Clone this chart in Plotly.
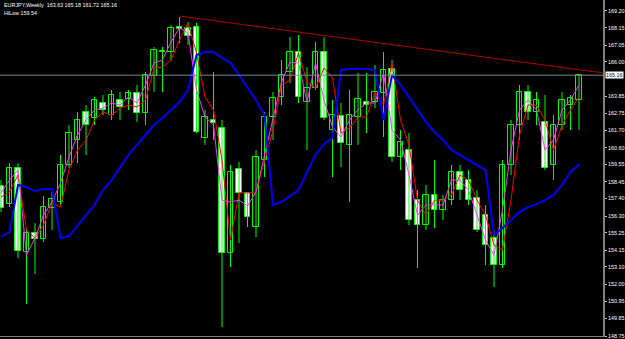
import plotly.graph_objects as go

# Weekly EURJPY candles (index 0..68)
opens = [158.19,157.05,159.32,154.03,155.23,154.85,156.80,157.18,159.51,161.08,
         162.84,162.46,163.41,162.65,163.60,163.66,164.04,162.78,165.11,166.68,
         166.62,168.19,168.13,168.19,161.21,162.34,161.84,153.97,159.26,157.75,
         155.61,159.82,162.53,163.79,165.36,166.62,163.47,164.35,166.62,161.71,
         162.59,160.77,162.53,163.47,163.47,164.04,165.55,160.01,160.45,157.30,
         155.73,157.62,156.68,157.30,159.07,158.56,157.43,156.36,154.91,153.21,
         159.51,162.02,164.10,162.84,162.21,159.51,162.02,163.28,163.63]
highs = [158.56,159.63,159.63,155.54,155.86,157.56,157.81,160.14,162.02,162.84,
         163.28,163.79,163.91,164.23,164.10,164.23,164.54,165.36,166.93,166.93,
         168.32,168.82,168.51,168.44,162.97,165.36,162.34,159.51,159.70,157.81,
         160.45,162.84,164.10,166.11,167.56,167.69,165.67,167.25,167.56,163.60,
         163.41,164.23,165.30,165.30,165.80,166.62,166.11,161.71,161.52,157.93,
         158.25,159.82,157.62,159.51,159.51,159.19,157.93,156.99,155.42,159.82,
         162.34,164.54,164.54,164.10,163.91,162.65,164.10,163.91,165.18]
lows = [156.55,156.86,153.65,150.76,152.65,154.66,155.42,156.99,159.32,159.63,
        160.14,162.02,162.65,162.34,162.34,162.97,162.21,162.02,164.10,164.10,
        166.11,167.18,167.06,161.52,160.77,161.08,149.31,153.09,154.60,155.61,
        154.98,158.75,161.08,163.28,164.67,163.41,160.45,164.23,162.34,158.75,
        159.38,157.18,160.77,161.52,163.09,161.27,159.70,159.19,155.73,153.03,
        155.42,155.54,156.05,156.99,157.30,156.99,155.29,153.21,151.83,153.03,
        158.88,161.08,162.34,162.02,159.19,158.56,161.71,161.71,161.72]
closes = [156.80,159.32,154.09,155.23,154.85,156.86,157.37,159.51,161.52,162.34,
          162.02,163.60,162.97,163.91,163.16,164.04,162.78,165.17,166.74,166.62,
          168.13,168.07,167.62,161.58,162.53,162.15,153.97,159.07,157.75,156.23,
          160.01,162.53,163.72,165.17,166.62,163.79,164.35,166.62,162.46,162.65,
          160.89,162.65,163.66,163.28,164.10,165.48,160.01,160.95,156.05,155.73,
          157.62,156.68,157.30,159.07,157.93,157.30,155.42,154.47,153.21,159.51,
          162.02,164.10,162.84,163.60,159.32,162.02,163.60,163.72,165.16]

# indicator lines
hilow = [154.98,155.29,158.25,158.12,157.87,157.99,157.99,154.91,155.04,155.73,
         156.36,156.99,157.93,158.56,159.38,160.14,160.77,161.39,162.02,162.46,
         162.97,163.47,164.23,166.43,166.62,166.62,166.24,165.93,165.17,164.35,
         163.60,162.65,156.99,157.18,157.56,157.93,159.07,160.14,160.83,161.21,
         165.48,165.55,165.55,165.55,165.48,162.34,165.17,164.54,163.79,162.97,
         162.21,161.58,161.08,160.45,160.14,159.82,159.51,159.19,155.10,155.54,
         156.05,156.55,156.86,157.05,157.30,157.62,158.25,159.07,159.54]
magenta_line = [157.75,158.56,159.19,153.84,154.91,156.36,157.18,158.37,160.01,161.39,
                162.34,162.97,163.09,163.41,163.28,163.79,163.41,164.54,165.93,166.11,
                167.25,168.13,167.81,164.23,162.53,162.02,157.30,157.18,157.30,156.93,
                157.81,160.14,162.53,164.73,165.99,165.93,163.47,165.93,163.60,161.90,
                161.27,162.34,162.97,163.41,163.41,165.30,161.71,161.08,158.88,156.36,
                156.99,156.99,156.99,158.56,158.56,157.93,156.36,154.79,153.84,156.68,
                160.45,162.97,163.60,162.97,160.45,161.08,162.97,163.60,164.54]
red_line = [157.49,157.81,158.88,155.42,154.91,155.73,157.12,156.86,159.19,160.45,
            161.08,162.34,162.84,162.65,163.09,163.28,163.16,163.60,165.61,165.67,
            166.11,167.37,168.44,166.56,163.79,162.97,159.82,154.79,157.75,157.75,
            157.81,159.82,161.71,164.54,164.86,166.56,164.73,164.35,165.61,164.98,
            161.52,161.84,162.53,162.53,164.10,163.28,165.93,162.34,160.77,157.30,
            156.36,157.30,157.30,157.62,158.88,158.56,157.30,156.36,154.47,154.16,
            157.30,161.39,163.28,163.28,162.34,160.45,162.02,162.97,163.79]

trend_x = [21, 70.8]
trend_y = [168.88, 165.30]
last_price = 165.16
tick_vals = [169.20,168.15,167.05,166.00,163.85,162.75,161.70,160.60,159.55,158.45,
             157.40,156.30,155.25,154.15,153.10,152.00,150.95,149.85,148.75]

n = len(opens)
idx = list(range(n))

GREEN = "#00ff00"
fig = go.Figure()

# wicks
wx, wy = [], []
for i in idx:
    wx += [i, i, None]
    wy += [lows[i], highs[i], None]
fig.add_trace(go.Scatter(x=wx, y=wy, mode="lines", line=dict(color=GREEN, width=1),
                         hoverinfo="skip", showlegend=False))

# bodies
bases, heights, fills = [], [], []
for i in idx:
    lo = min(opens[i], closes[i]); hi = max(opens[i], closes[i])
    h = max(hi - lo, 0.06)
    bases.append(lo); heights.append(h)
    fills.append("#000000" if closes[i] >= opens[i] else "#ffffff")
fig.add_trace(go.Bar(x=idx, y=heights, base=bases, width=0.68,
                     marker=dict(color=fills, line=dict(color=GREEN, width=1)),
                     showlegend=False, hoverinfo="skip"))

fig.add_trace(go.Scatter(x=idx, y=red_line, mode="lines", line=dict(color="#ff0000", width=1), showlegend=False))
fig.add_trace(go.Scatter(x=idx, y=magenta_line, mode="lines", line=dict(color="#ff33ff", width=1), showlegend=False))
fig.add_trace(go.Scatter(x=idx, y=hilow, mode="lines", line=dict(color="#0000ff", width=2), showlegend=False))
fig.add_trace(go.Scatter(x=trend_x, y=trend_y, mode="lines", line=dict(color="#b00000", width=1), showlegend=False))

fig.add_hline(y=last_price, line=dict(color="#778899", width=1))

FONT = "Liberation Sans, Arial, sans-serif"
FS = 5.4
fig.update_layout(
    width=625, height=339,
    margin=dict(l=0, r=22, t=0, b=3),
    paper_bgcolor="#000000", plot_bgcolor="#000000",
    template="none",
    bargap=0,
    xaxis=dict(range=[-1/8.5, 602/8.5], showgrid=False, zeroline=False, showticklabels=False,
               showline=True, linecolor="#808080", linewidth=1, ticks="", automargin=False),
    yaxis=dict(range=[148.75, 169.89], side="right", showgrid=False, zeroline=False,
               tickvals=tick_vals, ticktext=[f"{v:.2f}" for v in tick_vals],
               ticks="outside", ticklen=2, tickcolor="#c0c0c0",
               showline=True, linecolor="#808080", linewidth=2,
               tickfont=dict(family=FONT, size=FS, color="#ffffff"), automargin=False),
    font=dict(family=FONT, size=FS, color="#ffffff"),
    annotations=[
        dict(xref="paper", yref="paper", x=0.003, y=1, xanchor="left", yanchor="top",
             text="EURJPY,Weekly  163.63 165.18 161.72 165.16", showarrow=False,
             font=dict(family=FONT, size=FS, color="#ffffff")),
        dict(xref="paper", yref="paper", x=0.003, y=0.977, xanchor="left", yanchor="top",
             text="HiLow 159.54", showarrow=False,
             font=dict(family=FONT, size=FS, color="#ffffff")),
        dict(xref="paper", yref="y", x=1, y=last_price, xanchor="left", yanchor="middle",
             xshift=2, text="165.16", showarrow=False, bgcolor="#ffffff", borderpad=0,
             font=dict(family=FONT, size=FS, color="#000000")),
    ],
)

fig.write_html("out.html")
